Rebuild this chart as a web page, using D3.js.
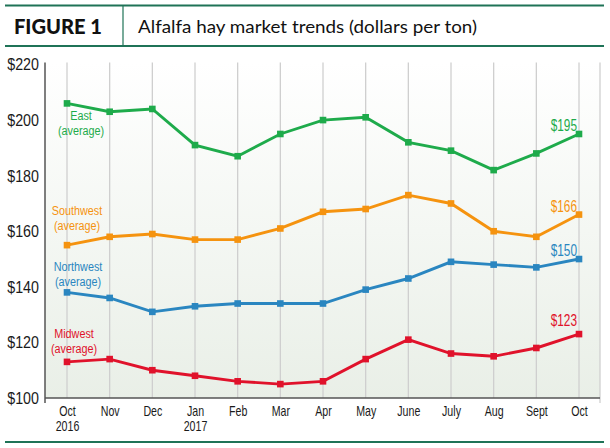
<!DOCTYPE html>
<html>
<head>
<meta charset="utf-8">
<script src="https://cdn.jsdelivr.net/npm/d3@7"></script>
<style>
  body { margin: 0; background: #fff; }
  svg text { font-family: "Liberation Sans", Arial, sans-serif; }
</style>
</head>
<body>
<script>
// months along the x axis (second line is the year)
var months = ["Oct", "Nov", "Dec", "Jan", "Feb", "Mar", "Apr", "May", "June", "July", "Aug", "Sept", "Oct"];
var years = ["2016", "", "", "2017", "", "", "", "", "", "", "", "", ""];
var yTicks = [100, 120, 140, 160, 180, 200, 220];

var east = [206, 203, 204, 191, 187, 195, 200, 201, 192, 189, 182, 188, 195];
var southwest = [155, 158, 159, 157, 157, 161, 167, 168, 173, 170, 160, 158, 166];
var northwest = [138, 136, 131, 133, 134, 134, 134, 139, 143, 149, 148, 147, 150];
var midwest = [113, 114, 110, 108, 106, 105, 106, 114, 121, 116, 115, 118, 123];

var seriesNames = ["East", "Southwest", "Northwest", "Midwest"];
var seriesValues = [east, southwest, northwest, midwest];
var seriesColors = ["#1eab4b", "#f5930f", "#2a86c0", "#e0122b"];

var width = 610, height = 448;
var padding = {top: 64, right: 10, bottom: 50, left: 45};
var plotRight = 600;
var condense = 0.76; // narrow type, like a condensed face

var svg = d3.select("body").append("svg")
    .attr("width", width)
    .attr("height", height);

// header
var green = "#1f7357";
svg.append("line").attr("x1", 5).attr("x2", 604).attr("y1", 5.5).attr("y2", 5.5)
    .attr("stroke", green).attr("stroke-width", 2);
svg.append("line").attr("x1", 5).attr("x2", 604).attr("y1", 46).attr("y2", 46)
    .attr("stroke", green).attr("stroke-width", 2);
svg.append("line").attr("x1", 123).attr("x2", 123).attr("y1", 5).attr("y2", 46)
    .attr("stroke", green).attr("stroke-width", 1.2);
svg.append("text").attr("x", 14).attr("y", 34)
    .style("font-family", "Lato, Roboto, sans-serif")
    .attr("font-weight", "900").attr("font-size", "21px").attr("fill", "#111")
    .attr("textLength", 88).attr("lengthAdjust", "spacingAndGlyphs")
    .text("FIGURE 1");
svg.append("text").attr("x", 138).attr("y", 33)
    .style("font-family", "Lato, Roboto, sans-serif")
    .attr("font-size", "18px").attr("fill", "#111")
    .attr("textLength", 339).attr("lengthAdjust", "spacingAndGlyphs")
    .text("Alfalfa hay market trends (dollars per ton)");
// bottom rule
svg.append("line").attr("x1", 5).attr("x2", 604).attr("y1", 442).attr("y2", 442)
    .attr("stroke", green).attr("stroke-width", 2);

var xScale = d3.scalePoint()
    .domain(d3.range(months.length))
    .range([67, 579]);
var yScale = d3.scaleLinear()
    .domain([100, 220])
    .range([398, 64.5]);

// plot background gradient
var defs = svg.append("defs");
var grad = defs.append("linearGradient").attr("id", "bg")
    .attr("x1", 0).attr("x2", 0).attr("y1", 0).attr("y2", 1);
grad.append("stop").attr("offset", "0%").attr("stop-color", "#ffffff");
grad.append("stop").attr("offset", "100%").attr("stop-color", "#e9efe7");
svg.append("rect")
    .attr("x", padding.left).attr("y", yScale(220) - 2)
    .attr("width", plotRight - padding.left)
    .attr("height", yScale(100) - yScale(220) + 2)
    .attr("fill", "url(#bg)");

// vertical grid lines
svg.selectAll(".grid")
    .data(d3.range(months.length))
    .enter()
    .append("line")
    .attr("class", "grid")
    .attr("x1", function(d) { return xScale(d); })
    .attr("x2", function(d) { return xScale(d); })
    .attr("y1", yScale(220) - 2)
    .attr("y2", yScale(100))
    .attr("stroke", "#cfcfcf")
    .attr("stroke-width", 1.3);
svg.append("line")
    .attr("x1", plotRight).attr("x2", plotRight)
    .attr("y1", yScale(220) - 2).attr("y2", yScale(100) + 5)
    .attr("stroke", "#cfcfcf").attr("stroke-width", 1.3);

// axes
var yAxis = d3.axisLeft(yScale)
    .tickValues(yTicks)
    .tickSize(0)
    .tickPadding(6)
    .tickFormat(function(d) { return "$" + d; });
var yAxisG = svg.append("g")
    .attr("transform", "translate(" + padding.left + ",0)")
    .call(yAxis);
yAxisG.select(".domain").attr("stroke", "#555").attr("stroke-width", 1.5)
    .attr("d", "M0," + (yScale(220) - 2) + "V" + (yScale(100) + 5));
yAxisG.selectAll("text")
    .attr("font-size", "17px")
    .attr("fill", "#1a1a1a")
    .attr("x", 0)
    .attr("transform", "translate(-6,0) scale(0.84,1)")
    .style("font-family", "\"Liberation Sans\", Arial, sans-serif");

var xAxis = d3.axisBottom(xScale)
    .tickSize(0)
    .tickFormat(function(d) { return months[d]; });
var xAxisG = svg.append("g")
    .attr("transform", "translate(0," + yScale(100) + ")")
    .call(xAxis);
xAxisG.select(".domain").attr("stroke", "#555").attr("stroke-width", 1.5)
    .attr("d", "M" + padding.left + ",0H" + plotRight);
xAxisG.selectAll(".tick text")
    .attr("font-size", "14px")
    .attr("fill", "#1a1a1a")
    .attr("y", 0)
    .attr("dy", 0)
    .attr("transform", "translate(0,18) scale(" + condense + ",1)")
    .style("font-family", "\"Liberation Sans\", Arial, sans-serif");
// year under the month, as its own text
xAxisG.selectAll(".tick")
    .filter(function(d) { return years[d]; })
    .append("text")
    .attr("font-size", "14px")
    .attr("fill", "#1a1a1a")
    .attr("text-anchor", "middle")
    .attr("transform", "translate(0,33) scale(" + condense + ",1)")
    .text(function(d) { return years[d]; });

// lines
var line = d3.line()
    .x(function(d, i) { return xScale(i); })
    .y(function(d) { return yScale(d); });

var endLabelDy = [-3, -3, -3, -8];
seriesValues.forEach(function(vals, s) {
    var g = svg.append("g");
    g.append("path")
        .datum(vals)
        .attr("fill", "none")
        .attr("stroke", seriesColors[s])
        .attr("stroke-width", 2.9)
        .attr("d", line);
    g.selectAll("rect")
        .data(vals)
        .enter()
        .append("rect")
        .attr("x", function(d, i) { return xScale(i) - 3.3; })
        .attr("y", function(d) { return yScale(d) - 3.3; })
        .attr("width", 6.6)
        .attr("height", 6.6)
        .attr("fill", seriesColors[s]);
    // end value label
    var last = vals[vals.length - 1];
    g.append("text")
        .attr("transform", "translate(" + (xScale(vals.length - 1) - 2) + "," +
            (yScale(last) + endLabelDy[s]) + ") scale(0.74,1)")
        .attr("text-anchor", "end")
        .attr("font-size", "16px")
        .attr("fill", seriesColors[s])
        .text("$" + last);
});

// series name labels, two separate lines
var nameLabelY = [120, 215, 271, 338];
var nameLabelX = [81, 77, 78, 74];
seriesNames.forEach(function(name, s) {
    [name, "(average)"].forEach(function(txt, k) {
        svg.append("text")
            .attr("transform", "translate(" + nameLabelX[s] + "," + (nameLabelY[s] + k * 14.5) + ") scale(0.8,1)")
            .attr("text-anchor", "middle")
            .attr("font-size", "13.5px")
            .attr("fill", seriesColors[s])
            .text(txt);
    });
});
</script>
</body>
</html>
